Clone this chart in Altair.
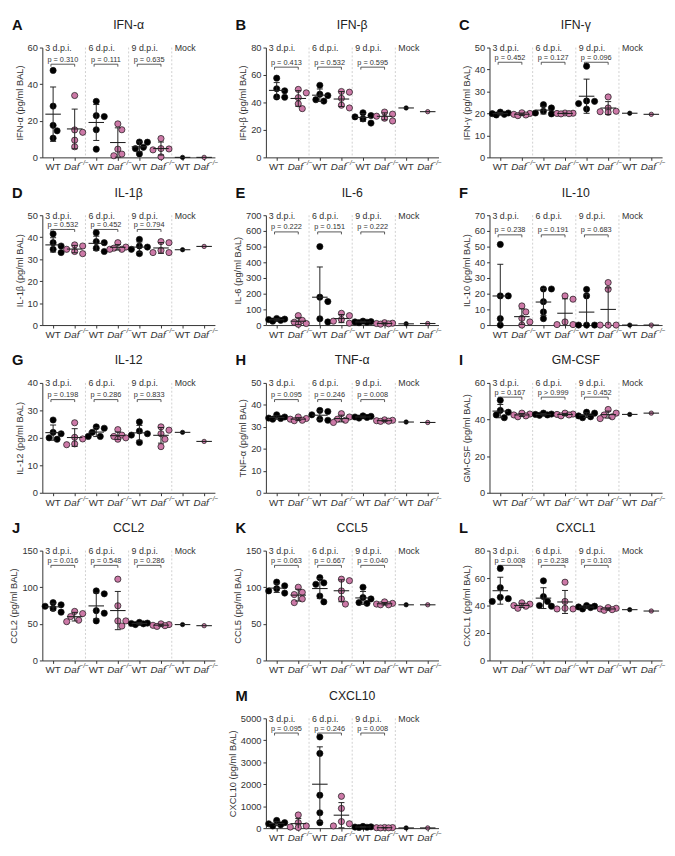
import altair as alt
import pandas as pd

# ---------------- data ----------------
GROUPS = ["3 d.p.i.", "6 d.p.i.", "9 d.p.i.", "Mock"]

# each list: [WT 3dpi, Daf 3dpi, WT 6dpi, Daf 6dpi, WT 9dpi, Daf 9dpi, WT mock, Daf mock]
IFNA = [[47.5, 28.0, 17.5, 14.5, 10.5], [33.8, 15.0, 13.7, 9.4, 5.8],
        [30.6, 22.8, 22.3, 15.1, 4.5], [18.3, 15.1, 4.5, 1.8, 0.9],
        [8.4, 8.3, 5.5, 4.8, 1.9], [10.3, 4.8, 4.6, 4.1, 0.3], [0.0], [0.0]]
IFNB = [[57.7, 50.0, 48.5, 44.0, 43.8], [49.5, 47.0, 43.5, 39.0, 35.5],
        [52.5, 46.0, 45.0, 42.0, 41.0], [48.0, 47.5, 43.0, 38.0, 36.0],
        [32.5, 30.5, 29.5, 28.0, 25.0], [33.0, 31.5, 30.0, 28.5, 26.5], [36.0], [33.3]]
IFNG = [[20.6, 20.2, 19.9, 19.6, 19.3], [20.3, 20.0, 19.6, 19.3, 19.0],
        [24.0, 22.5, 21.0, 20.2, 19.8], [20.2, 20.1, 20.0, 19.9, 19.8],
        [41.5, 25.7, 25.5, 24.5, 22.0], [27.5, 22.5, 21.0, 20.8, 20.5], [20.1], [19.6]]
IL1B = [[41.5, 37.5, 36.0, 34.5, 33.0], [36.5, 36.0, 34.5, 33.5, 32.5],
        [42.0, 38.0, 37.5, 35.0, 33.5], [37.5, 35.5, 35.0, 34.5, 34.5],
        [39.0, 36.0, 35.5, 34.5, 32.5], [38.0, 37.5, 34.0, 33.0, 33.0], [34.3], [35.8]]
IL6 = [[42, 38, 35, 30, 25], [60, 30, 18, 10, 5],
       [500, 178, 150, 40, 20], [75, 60, 35, 25, 12],
       [25, 22, 20, 18, 15], [15, 12, 10, 8, 6], [8], [10]]
IL10 = [[51.4, 18.6, 18.6, 4.1, 0.0], [12.2, 8.4, 4.3, 2.0, 0.0],
        [23.0, 23.0, 14.9, 8.4, 4.1], [18.6, 16.5, 2.0, 0.3, 0.3],
        [22.7, 18.6, 0.0, 0.0, 0.0], [27.1, 22.8, 0.0, 0.0, 0.0], [0.0], [0.0]]
IL12 = [[26.5, 22.0, 21.5, 20.0, 19.5], [25.5, 20.2, 19.6, 17.8, 17.5],
        [24.0, 23.5, 22.0, 20.5, 20.5], [23.0, 21.0, 20.5, 20.0, 19.5],
        [25.8, 22.5, 21.5, 21.0, 18.3], [24.0, 22.8, 21.5, 19.5, 16.8], [22.0], [18.7]]
TNFA = [[35.5, 34.5, 34.0, 33.8, 33.5], [34.5, 33.8, 33.5, 33.0, 32.8],
        [37.5, 37.0, 35.5, 33.5, 33.0], [36.0, 34.5, 33.5, 33.0, 32.0],
        [35.0, 34.8, 34.5, 34.3, 34.0], [33.2, 33.0, 32.8, 32.6, 32.5], [32.2], [32.0]]
GMCSF = [[50.5, 45.0, 44.0, 42.5, 41.0], [43.5, 43.0, 42.5, 42.0, 41.5],
         [43.5, 43.0, 42.8, 42.5, 42.3], [43.5, 43.0, 42.8, 42.5, 42.0],
         [44.0, 43.5, 42.0, 41.5, 41.0], [45.5, 43.5, 42.5, 41.5, 40.5], [42.8], [43.5]]
CCL2 = [[79, 76, 74, 71, 66], [67, 64, 60, 55, 53],
        [95, 91, 68, 64.5, 54], [111, 74.7, 54, 54, 47],
        [52, 51, 50.5, 50, 49], [50, 49, 48, 47.5, 46.5], [49], [47.5]]
CCL5 = [[107, 102, 98, 95, 92], [100, 93, 90, 84, 79],
        [113, 106, 104, 88, 80], [111, 109, 95, 84, 77],
        [100, 86, 84, 79, 78], [80, 78, 77, 76, 76], [76], [76]]
CXCL1 = [[67, 53, 46, 45, 43], [42, 41, 40, 39.5, 38],
         [58, 46.5, 43, 40, 39.5], [57, 43, 38, 37.5, 37.5],
         [40, 39.5, 39, 38.5, 37.5], [38.5, 38, 37.5, 37, 36.5], [37], [36]]
CXCL10 = [[350, 250, 200, 150, 100], [600, 250, 100, 50, 30],
          [4150, 3400, 1500, 700, 250], [1450, 900, 300, 200, 100],
          [80, 60, 50, 40, 30], [30, 25, 20, 15, 10], [10], [10]]

LETTERS = ["A", "B", "C", "D", "E", "F", "G", "H", "I", "J", "K", "L", "M"]
NAMES = ["IFN-α", "IFN-β", "IFN-γ", "IL-1β", "IL-6", "IL-10", "IL-12", "TNF-α",
         "GM-CSF", "CCL2", "CCL5", "CXCL1", "CXCL10"]
VALUES = [IFNA, IFNB, IFNG, IL1B, IL6, IL10, IL12, TNFA, GMCSF, CCL2, CCL5, CXCL1, CXCL10]
YMAX = [60, 80, 50, 50, 700, 70, 40, 50, 60, 150, 150, 80, 5000]
YSTEP = [20, 20, 10, 10, 100, 10, 10, 10, 20, 50, 50, 20, 1000]
PVALS = [["p = 0.310", "p = 0.111", "p = 0.635"],
         ["p = 0.413", "p = 0.532", "p = 0.595"],
         ["p = 0.452", "p = 0.127", "p = 0.096"],
         ["p = 0.532", "p = 0.452", "p = 0.794"],
         ["p = 0.222", "p = 0.151", "p = 0.222"],
         ["p = 0.238", "p = 0.191", "p = 0.683"],
         ["p = 0.198", "p = 0.286", "p = 0.833"],
         ["p = 0.095", "p = 0.246", "p = 0.008"],
         ["p = 0.167", "p > 0.999", "p = 0.452"],
         ["p = 0.016", "p = 0.548", "p = 0.286"],
         ["p = 0.063", "p = 0.667", "p = 0.040"],
         ["p = 0.008", "p = 0.238", "p = 0.103"],
         ["p = 0.095", "p = 0.246", "p = 0.008"]]
# bracket distance below the plot top (px), layout only
BRACKET_Y = [17, 20, 15, 14.5, 17, 20, 17, 17, 14.5, 15, 15, 15, 15]

# ---------------- layout ----------------
W, H = 176, 112
XU = W / 8.0
DOT = 6.8
FONT = "Liberation Sans"
INK = "#333333"
PINK = "#cc79a7"


def swarm(vals, ypx):
    """Simple beeswarm layout (pixel offsets) so overlapping dots spread sideways."""
    placed, offs = [], []
    step = 0.6 * DOT
    cands = [0.0, step, -step, 2 * step, -2 * step]
    for v in vals:
        y = v * ypx
        best, bestd = None, -1
        for c in cands:
            dmin = min([((c - px) ** 2 + (y - py) ** 2) ** 0.5 for px, py in placed] or [99])
            if dmin >= 0.9 * DOT:
                best = c
                break
            if dmin > bestd:
                best, bestd = c, dmin
        placed.append((best, y))
        offs.append(best)
    return offs


def panel(i):
    values, ymax, ystep = VALUES[i], YMAX[i], YSTEP[i]
    boff = BRACKET_Y[i]
    rows = []
    for k, vals in enumerate(values):
        pos = k + 0.5
        for v, o in zip(vals, swarm(vals, H / ymax)):
            rows.append({"pos": pos, "value": v, "x": pos + o / XU,
                         "geno": "WT" if k % 2 == 0 else "Daf"})
    df = pd.DataFrame(rows)

    xs = alt.Scale(domain=[0, 8], nice=False, zero=False)
    ys = alt.Scale(domain=[0, ymax], nice=False)
    xax = alt.Axis(values=[k + 0.5 for k in range(8)], labels=False, title=None,
                   tickSize=3, grid=False)
    yax = alt.Axis(values=list(range(0, ymax + 1, ystep)), title=f"{NAMES[i]} (pg/ml BAL)",
                   format="d", tickSize=3, labelPadding=2, titlePadding=3, grid=False)

    def X(f):
        return alt.X(f, scale=xs, axis=xax)

    def Y(f):
        return alt.Y(f, scale=ys, axis=yax)

    sep = alt.Chart(pd.DataFrame({"x": [2, 4, 6]})).mark_rule(
        stroke="#c4c4c4", strokeDash=[2, 2], strokeWidth=0.8
    ).encode(x=X("x:Q"), y=alt.value(0), y2=alt.value(H))

    glab = alt.Chart(pd.DataFrame({"x": [0, 2, 4, 6], "t": GROUPS})).mark_text(
        align="left", baseline="middle", dx=3, fontSize=9, fill=INK, font=FONT
    ).encode(x=X("x:Q"), y=alt.value(0.5), text="t:N")

    br = alt.Chart(pd.DataFrame({"g": [0, 1, 2], "p": PVALS[i]})).transform_calculate(
        x1="datum.g*2+0.4", x2="datum.g*2+1.5", xm="datum.g*2+0.95"
    )
    bline = br.mark_rule(stroke="#444444", strokeWidth=0.9).encode(
        x=X("x1:Q"), x2="x2:Q", y=alt.value(boff))
    bt1 = br.mark_rule(stroke="#444444", strokeWidth=0.9).encode(
        x=X("x1:Q"), y=alt.value(boff), y2=alt.value(boff + 2.5))
    bt2 = br.mark_rule(stroke="#444444", strokeWidth=0.9).encode(
        x=X("x2:Q"), y=alt.value(boff), y2=alt.value(boff + 2.5))
    btxt = br.mark_text(fontSize=7.5, baseline="bottom", fill="#333333", font=FONT).encode(
        x=X("xm:Q"), y=alt.value(boff - 0.5), text="p:N")

    pts = alt.Chart(df).transform_calculate(
        sz="datum.pos > 6 ? 20 : 40"
    ).mark_point(filled=True, stroke="#111111", strokeWidth=0.7, opacity=1).encode(
        x=X("x:Q"),
        y=Y("value:Q"),
        fill=alt.Fill("geno:N", scale=alt.Scale(domain=["WT", "Daf"],
                                                range=["#000000", PINK]), legend=None),
        size=alt.Size("sz:Q", scale=None),
    )

    agg = alt.Chart(df).transform_aggregate(
        m="mean(value)", sd="stdev(value)", n="count()", groupby=["pos"]
    ).transform_calculate(
        lo="max(0, datum.m - (datum.n > 1 ? datum.sd : 0))",
        hi="datum.m + (datum.n > 1 ? datum.sd : 0)",
        xl="datum.pos - 0.36", xr="datum.pos + 0.36",
        cl="datum.pos - 0.14", cr="datum.pos + 0.14",
    )
    meanl = agg.mark_rule(stroke="#222222", strokeWidth=1.1).encode(
        x=X("xl:Q"), x2="xr:Q", y=Y("m:Q"))
    errs = agg.transform_filter("datum.n > 1")
    err = errs.mark_rule(stroke="#222222", strokeWidth=1.0).encode(
        x=X("pos:Q"), y=Y("lo:Q"), y2="hi:Q")
    caph = errs.mark_rule(stroke="#222222", strokeWidth=1.0).encode(
        x=X("cl:Q"), x2="cr:Q", y=Y("hi:Q"))
    capl = errs.transform_filter("datum.m - datum.sd > 0").mark_rule(
        stroke="#222222", strokeWidth=1.0).encode(
        x=X("cl:Q"), x2="cr:Q", y=Y("lo:Q"))

    xl = pd.DataFrame({"x": [k + 0.5 for k in range(8)], "g": ["WT", "Daf"] * 4})
    xlab = alt.Chart(xl)
    wt = xlab.transform_filter("datum.g == 'WT'").mark_text(
        baseline="top", fontSize=10, fill=INK, font=FONT).encode(
        x=X("x:Q"), y=alt.value(H + 5), text="g:N")
    daf = xlab.transform_filter("datum.g == 'Daf'").mark_text(
        baseline="top", fontSize=10, fontStyle="italic", fill=INK, font=FONT, dx=-3).encode(
        x=X("x:Q"), y=alt.value(H + 5), text="g:N")
    sup = xlab.transform_filter("datum.g == 'Daf'").mark_text(
        baseline="top", align="left", fontSize=6.5, fontStyle="italic", fill=INK,
        font=FONT, dx=5).encode(
        x=X("x:Q"), y=alt.value(H + 3), text=alt.value("−/−"))

    head = alt.Chart(pd.DataFrame({"t": [NAMES[i]], "l": [LETTERS[i]]}))
    title = head.mark_text(fontSize=12.5, fill="#222222", baseline="middle", font=FONT).encode(
        x=alt.value(W / 2), y=alt.value(-23), text="t:N")
    letter = head.mark_text(fontSize=15, fontWeight="bold", align="left", baseline="middle",
                            fill="#111111", font=FONT).encode(
        x=alt.value(-31), y=alt.value(-23), text="l:N")

    return alt.layer(sep, glab, bline, bt1, bt2, btxt, pts, meanl, err, caph, capl,
                     wt, daf, sup, title, letter).properties(width=W, height=H)


panels = [panel(i) for i in range(13)]
blank = alt.Chart(pd.DataFrame({"x": [0]})).mark_point(opacity=0).encode(
    x=alt.X("x:Q", axis=None), y=alt.Y("x:Q", axis=None)).properties(width=W, height=H)
charts = panels[:12] + [blank, panels[12]]

chart = alt.concat(*charts, columns=3).properties(
    spacing={"row": 59, "column": 52},
    bounds="flush",
    padding={"left": 1, "top": 2, "right": 1, "bottom": 1},
).configure_view(stroke=None).configure_axis(
    labelFont=FONT, labelFontSize=9.5, labelColor=INK,
    titleFont=FONT, titleFontSize=9.5, titleFontWeight="normal", titleColor=INK,
    domainColor=INK, tickColor=INK, domainWidth=1, tickWidth=1,
)

chart.save("out.html", embed_options={"renderer": "svg", "actions": False})
